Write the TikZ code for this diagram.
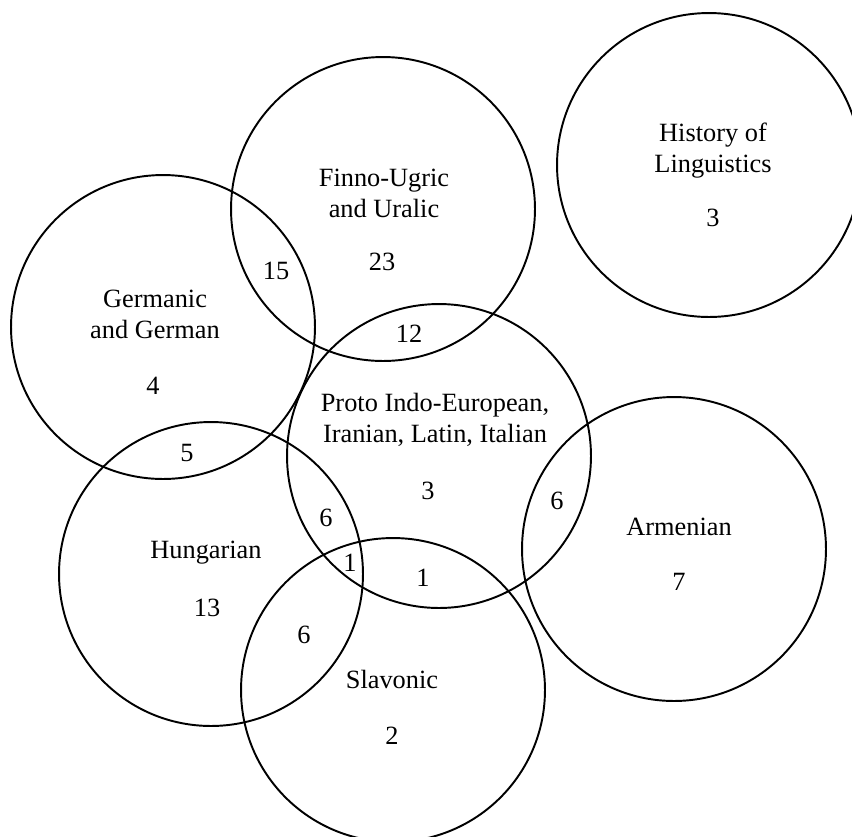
\documentclass[tikz,border=0pt]{standalone}
\usepackage{fontspec}
\setmainfont{Liberation Serif}
\begin{document}
\begin{tikzpicture}[x=0.02cm, y=-0.02cm,
		lang/.style={
			draw,
			circle,
			line width=1.1pt,
			minimum size=6.08cm,
			inner sep=0pt},
		txt/.style={
			align=center,
			inner sep=0pt,
			font=\fontsize{15}{17.6}\selectfont}]

		\useasboundingbox (0,0) rectangle (852,836);

		% circles
		\node (finno) [lang] at (383,209) {};
		\node (hist) [lang] at (709,165) {};
		\node (germ) [lang] at (163,327) {};
		\node (proto) [lang] at (439,456) {};
		\node (arm) [lang] at (674,549) {};
		\node (hung) [lang] at (211,574) {};
		\node (slav) [lang] at (393,690) {};

		% names and counts
		\node (finnoTxt) [txt] at (384,193) {Finno-Ugric\\and Uralic};
		\node (finnoN) [txt] at (382,262) {23};
		\node (histTxt) [txt] at (713,151) {History of\\Linguistics};
		\node (histN) [txt] at (713,218) {3};
		\node (germTxt) [txt] at (155,314) {Germanic\\and German};
		\node (germN) [txt] at (153,386) {4};
		\node (protoTxt) [txt] at (435,420) {Proto Indo-European,\\Iranian, Latin, Italian};
		\node (protoN) [txt] at (428,491) {3};
		\node (armTxt) [txt] at (679,527) {Armenian};
		\node (armN) [txt] at (679,582) {7};
		\node (hungTxt) [txt] at (206,553) {Hungarian};
		\node (hungN) [txt] at (207,608) {13};
		\node (slavTxt) [txt] at (392,679) {Slavonic};
		\node (slavN) [txt] at (392,736) {2};

		% overlaps
		\node (finnoGerm) [txt] at (276,271) {15};
		\node (finnoProto) [txt] at (409,334) {12};
		\node (germHung) [txt] at (187,453) {5};
		\node (protoHung) [txt] at (326,518) {6};
		\node (protoArm) [txt] at (557,501) {6};
		\node (protoHungSlav) [txt] at (350,563) {1};
		\node (protoSlav) [txt] at (423,578) {1};
		\node (hungSlav) [txt] at (304,635) {6};
	\end{tikzpicture}
\end{document}
